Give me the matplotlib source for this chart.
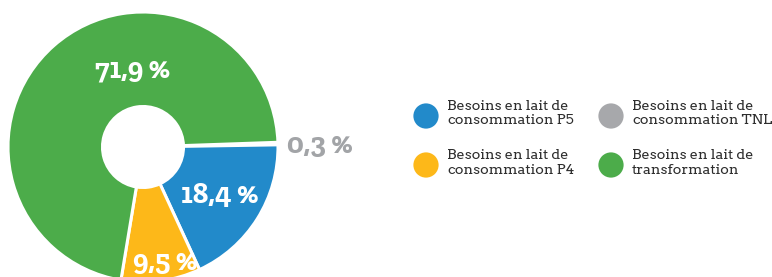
import matplotlib
matplotlib.use("Agg")
import matplotlib.pyplot as plt

# Data
categories = ["Besoins en lait de\nconsommation TNL",
              "Besoins en lait de\nconsommation P5",
              "Besoins en lait de\nconsommation P4",
              "Besoins en lait de\ntransformation"]
values = [0.3, 18.4, 9.5, 71.9]
value_labels = ["0,3 %", "18,4 %", "9,5 %", "71,9 %"]
colors = ["#A7A8AB", "#228ACA", "#FDB819", "#4CAC4A"]
legend_order = [1, 0, 2, 3]  # P5, TNL, P4, transformation (row-wise)

W, H = 772, 277
fig = plt.figure(figsize=(W / 100, H / 100), dpi=100)
ax = fig.add_axes([0, 0, 1, 1])

cx, cy, R = 143, 130, 135
wedges, _ = ax.pie(values, colors=colors, startangle=2, counterclock=False,
                   center=(cx, cy), radius=R,
                   wedgeprops=dict(width=R * 0.70, edgecolor="white", linewidth=2.2),
                   frame=True)
ax.set_xlim(0, W)
ax.set_ylim(0, H)
ax.set_aspect("equal")
ax.axis("off")

lab_font = ["Zilla Slab", "DejaVu Serif"]
leg_font = ["Arvo", "DejaVu Serif"]
# label offsets from pie center (pixels), baseline-anchored
offsets = [(177, -6), (77, -56), (22, -123), (-10, 69)]
label_colors = ["#A2A4A7", "white", "white", "white"]
for lab, (dx, dy), c in zip(value_labels, offsets, label_colors):
    ax.text(cx + dx, cy + dy, lab, ha="center", va="baseline", color=c,
            fontsize=21, family=lab_font, weight="bold")

# Legend (manual, 2x2)
col_x = [426, 611]
marker_y = [H - 116, H - 165]
text_base = [H - 124, H - 173.5]
for k, idx in enumerate(legend_order):
    r, c = divmod(k, 2)
    ax.scatter([col_x[c]], [marker_y[r]], s=330, color=colors[idx], marker="o",
               edgecolors="none", clip_on=False)
    ax.text(col_x[c] + 21, text_base[r], categories[idx], ha="left", va="baseline",
            fontsize=10.4, color="#2E2E2E", linespacing=1.12, family=leg_font)

fig.savefig("out.png", dpi=100)
